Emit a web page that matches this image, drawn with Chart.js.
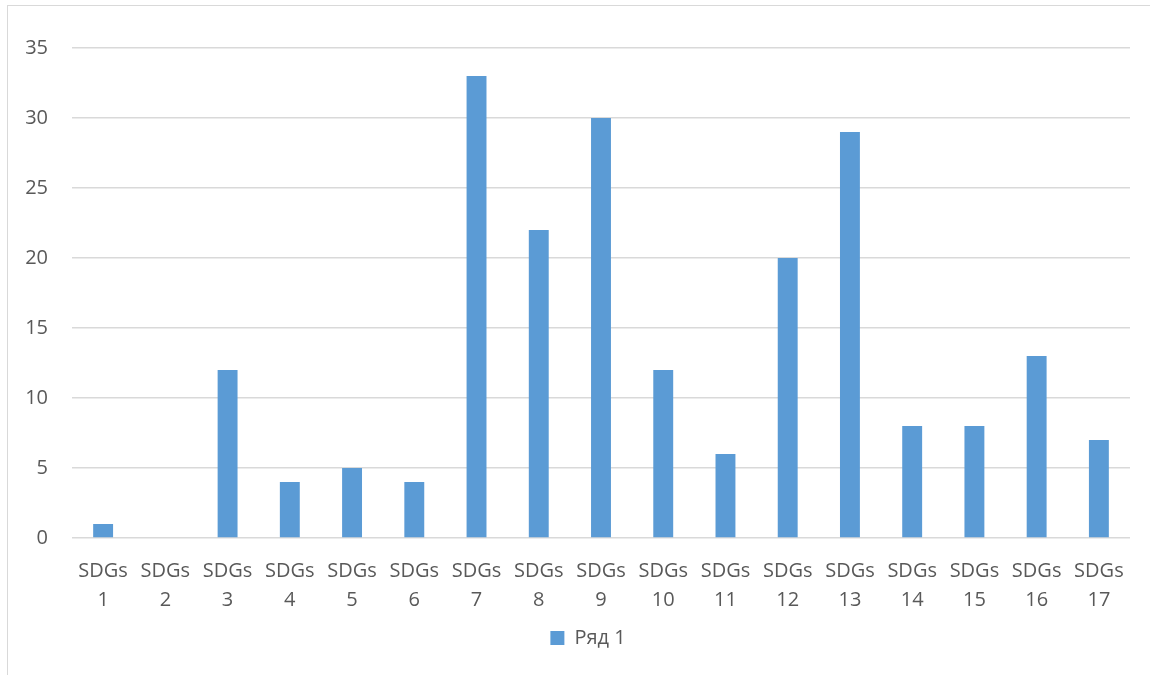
<!DOCTYPE html>
<html lang="ru">
<head>
  <meta charset="UTF-8" />
  <title>SDGs</title>
  <script src="https://cdn.jsdelivr.net/npm/chart.js"></script>
  <style>
    html, body { margin: 0; padding: 0; background: #fff; }
    .wrap { position: relative; width: 1150px; height: 675px; overflow: hidden; }
    .frame {
      position: absolute; left: 7px; top: 5px; width: 1200px; height: 720px;
      border: 1.5px solid #d9d9d9; box-sizing: border-box;
    }
    canvas { position: absolute; left: 0; top: 0; }
  </style>
</head>
<body>
  <div class="wrap">
    <div class="frame"></div>
    <canvas id="chart" width="1150" height="675"></canvas>
  </div>

  <script>
    const categories = ['1', '2', '3', '4', '5', '6', '7', '8', '9', '10', '11', '12', '13', '14', '15', '16', '17'];
    const values = [1, 0, 12, 4, 5, 4, 33, 22, 30, 12, 6, 20, 29, 8, 8, 13, 7];
    const seriesName = 'Ряд 1';
    const yTicks = [0, 5, 10, 15, 20, 25, 30, 35];

    const textColor = '#595959';
    const font = { family: 'Open Sans', size: 20 };

    // nudge the legend right so it sits under the middle of the plot area
    const legendShift = {
      id: 'legendShift',
      afterLayout(chart) {
        const lg = chart.legend;
        if (!lg) return;
        const mid = (chart.chartArea.left + chart.chartArea.right) / 2 - 13;
        const dx = mid - (lg.left + lg.right) / 2;
        lg.left += dx;
        lg.right += dx;
      }
    };

    new Chart(document.getElementById('chart'), {
      type: 'bar',
      data: {
        labels: categories.map(c => ['SDGs', c]),
        datasets: [{
          label: seriesName,
          data: values,
          backgroundColor: '#5b9bd5',
          barPercentage: 0.32,
          categoryPercentage: 1
        }]
      },
      options: {
        responsive: false,
        animation: false,
        layout: { padding: { left: 0, right: 20, top: 48, bottom: 17 } },
        plugins: {
          tooltip: { enabled: false },
          legend: {
            position: 'bottom',
            labels: { color: textColor, font: font, boxWidth: 14, boxHeight: 14, padding: 10 }
          }
        },
        scales: {
          x: {
            grid: { display: false, drawTicks: false },
            border: { display: false },
            ticks: { color: textColor, font: { ...font, lineHeight: 1.45 }, padding: 19, maxRotation: 0, autoSkip: false },
            afterFit: s => { s.height = 80; }
          },
          y: {
            min: 0,
            max: 35,
            afterBuildTicks: s => { s.ticks = yTicks.map(v => ({ value: v })); },
            grid: { color: '#d9d9d9', lineWidth: 1.5, drawTicks: false },
            border: { display: false },
            ticks: { color: textColor, font: font, padding: 24 },
            afterFit: s => { s.width = 72; }
          }
        }
      },
      plugins: [legendShift]
    });
  </script>
</body>
</html>
